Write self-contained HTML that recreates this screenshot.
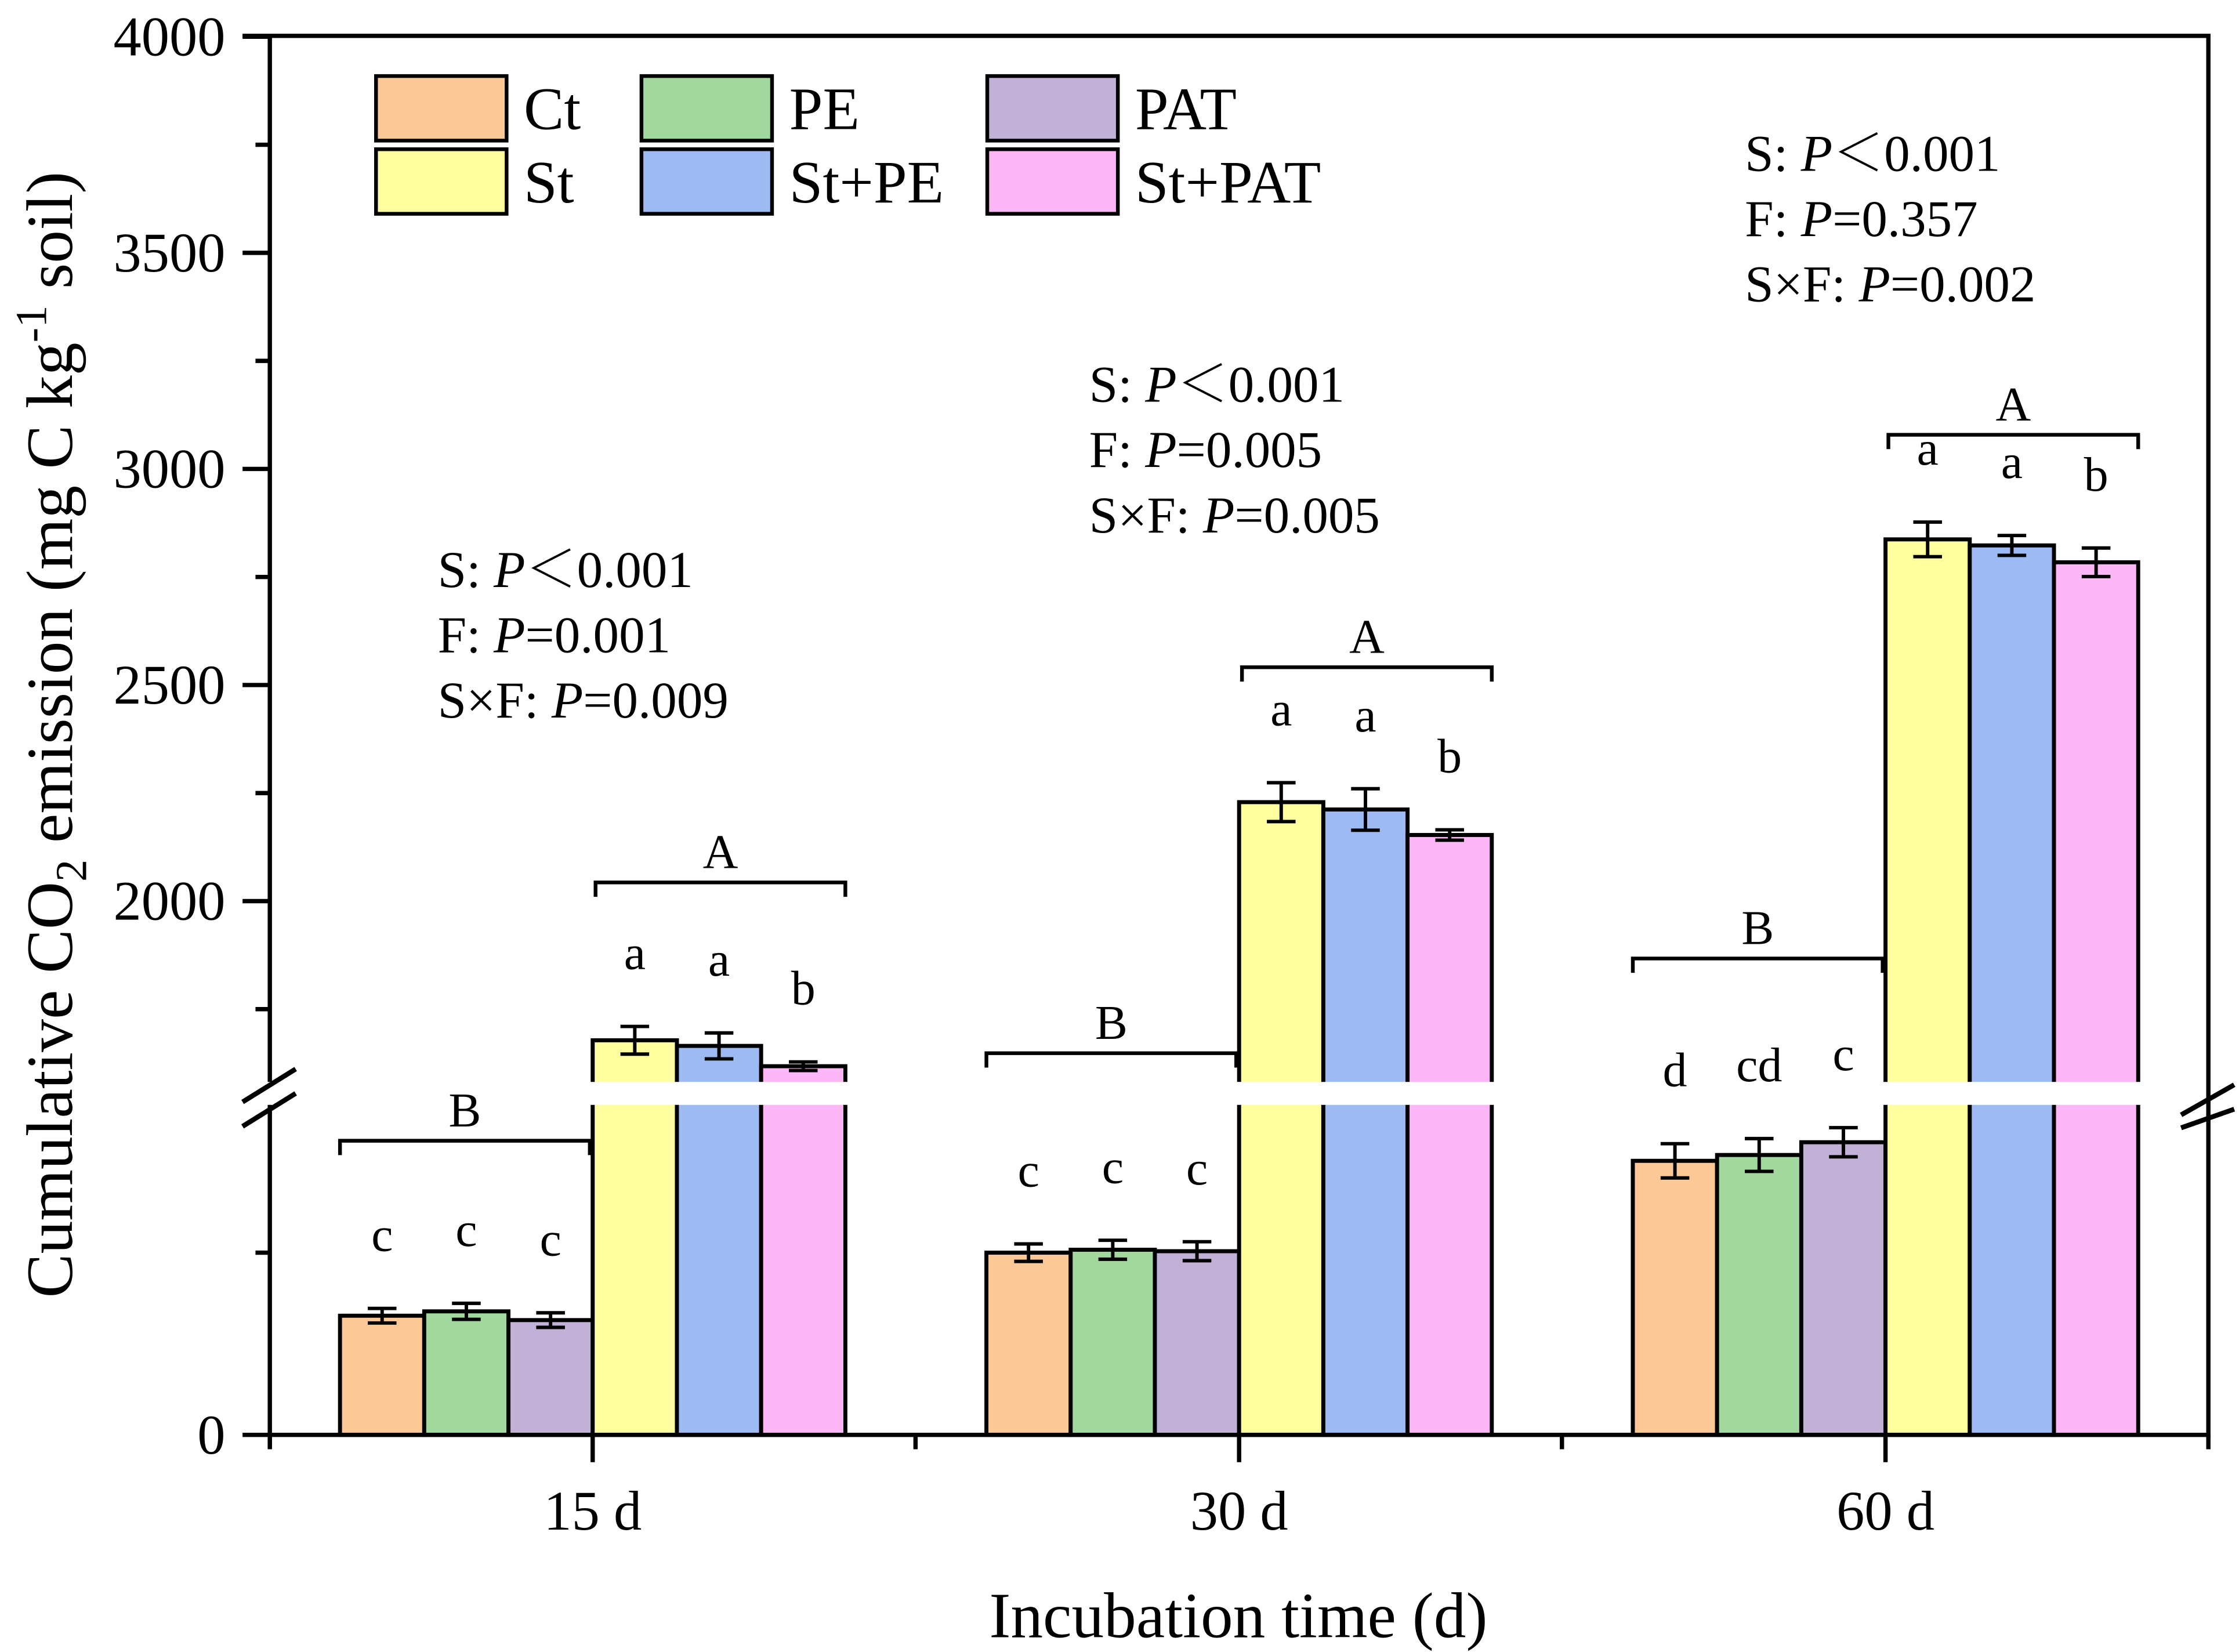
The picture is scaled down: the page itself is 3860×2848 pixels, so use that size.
<!DOCTYPE html>
<html><head><meta charset="utf-8"><style>html,body{margin:0;padding:0;background:#fff}svg{display:block}text{font-family:"Liberation Serif","Noto Serif CJK SC",serif;fill:#000}</style></head>
<body>
<svg id="chart" width="3860" height="2848" viewBox="0 0 1560.3 1151.3" xmlns="http://www.w3.org/2000/svg"></svg>
<script>
const groups = ["15 d", "30 d", "60 d"];
const seriesNames = ["Ct", "PE", "PAT", "St", "St+PE", "St+PAT"];
const seriesColors = ["#FCC896", "#A0D89E", "#C2B1D6", "#FFFFA0", "#9DBBF2", "#FDB6F6"];
const valCt = [327, 500, 752];
const valPE = [339, 508, 768];
const valPAT = [315, 504, 803];
const valSt = [1678, 2229, 2837];
const valStPE = [1665, 2212, 2823];
const valStPAT = [1618, 2153, 2784];
const errCt = [20, 24, 47];
const errPE = [22, 26, 45];
const errPAT = [20, 26, 40];
const errSt = [32, 45, 40];
const errStPE = [30, 48, 23];
const errStPAT = [10, 12, 33];
const letters = [["c","c","c","a","a","b"],["c","c","c","a","a","b"],["d","cd","c","a","a","b"]];
const yTickLabels = [0, 2000, 2500, 3000, 3500, 4000];
const yMinorTicks = [500, 1750, 2250, 2750, 3250, 3750];
const stats = [["S: ", "＜0.001"], ["F: ", "=0.001"], ["S×F: ", "=0.009"]];
const stats30 = [["S: ", "＜0.001"], ["F: ", "=0.005"], ["S×F: ", "=0.005"]];
const stats60 = [["S: ", "＜0.001"], ["F: ", "=0.357"], ["S×F: ", "=0.002"]];

const NS = "http://www.w3.org/2000/svg";
const svg = document.getElementById("chart");
function mk(tag, attrs, parent) { const e = document.createElementNS(NS, tag); for (const k in attrs) e.setAttribute(k, attrs[k]); (parent || svg).appendChild(e); return e; }
const X0 = 188, X1 = 1539, Y0 = 1000, YT = 25;
function yv(v) { return v <= 1000 ? Y0 - v * 0.254 : 628 - (v - 2000) * 0.3012; }
const groupCenter = [413, 863.5, 1314];
const barW = 58.7;
function barX(g, s) { return groupCenter[g] - 3 * barW + s * barW; }
const allVals = [valCt, valPE, valPAT, valSt, valStPE, valStPAT];
const allErr = [errCt, errPE, errPAT, errSt, errStPE, errStPAT];

for (let g = 0; g < groups.length; g++) {
  for (let s = 0; s < 6; s++) {
    const v = allVals[s][g], x = barX(g, s), y = yv(v);
    const r = mk("rect", {x: x, y: y, width: barW, height: Y0 - y, fill: seriesColors[s], stroke: "#000", "stroke-width": 2.8});
    
    
    if (v > 1000) {
      const gap = mk("rect", {x: x - 2, y: 754, width: barW + 4, height: 16, fill: "#fff"});
      
      
    }
    const e = allErr[s][g], cx = x + barW / 2;
    const eb = mk("path", {d: `M${cx} ${yv(v + e)}V${yv(v - e)}M${cx - 10} ${yv(v + e)}H${cx + 10}M${cx - 10} ${yv(v - e)}H${cx + 10}`, stroke: "#000", "stroke-width": 2.4, fill: "none"});
    
    
    const lt = mk("text", {x: cx, y: yv(v + e) - 40, "text-anchor": "middle", "font-size": 34});
    lt.textContent = letters[g][s];
    
    
  }
}
const bracketB = [795, 734, 668], bracketA = [615, 465, 303];
for (let g = 0; g < 3; g++) {
  const l = barX(g, 0), m = groupCenter[g], r = barX(g, 6);
  [[l, m - 2, bracketB[g], "B"], [m + 2, r, bracketA[g], "A"]].forEach(([a, b, y, t]) => {
    const p = mk("path", {d: `M${a} ${y + 10}V${y}H${b}V${y + 10}`, stroke: "#000", "stroke-width": 2.6, fill: "none"});
    
    
    const tx = mk("text", {x: (a + b) / 2, y: y - 10, "text-anchor": "middle", "font-size": 34});
    tx.textContent = t;
    
    
  });
}
const ax = mk("path", {d: `M${X0} ${Y0}H${X1}V754M${X1} 770V${YT}H${X0 - 19}M${X0} ${YT}V754M${X0} 770V${Y0 + 8}`, stroke: "#000", "stroke-width": 3, fill: "none"});


[[X0, 0], [X1, 1]].forEach(([x, i]) => {
  const b = mk("path", {d: `M${x - 19} ${i ? 777 : 768}L${x + 18} ${i ? 756 : 745}M${x - 19} ${i ? 786 : 785}L${x + 18} ${i ? 773 : 762}`, stroke: "#000", "stroke-width": 3.4});
  
  
});
yTickLabels.forEach(v => {
  const y = yv(v);
  const t = mk("path", {d: `M${X0 - 19} ${y}H${X0}`, stroke: "#000", "stroke-width": 3});
  
  
  const tl = mk("text", {x: 157, y: y + 13, "text-anchor": "end", "font-size": 39});
  tl.textContent = v;
  
  
});
yMinorTicks.forEach(v => {
  const t = mk("path", {d: `M${X0 - 10} ${yv(v)}H${X0}`, stroke: "#000", "stroke-width": 3});
  
  
});
groups.forEach((gname, g) => {
  const t = mk("path", {d: `M${groupCenter[g]} ${Y0}V${Y0 + 19}`, stroke: "#000", "stroke-width": 3});
  
  
  const tl = mk("text", {x: groupCenter[g], y: 1066, "text-anchor": "middle", "font-size": 39});
  tl.textContent = gname;
  
  
});
[X0, 638, 1088.5, X1].forEach(x => {
  const t = mk("path", {d: `M${x} ${Y0}V${Y0 + 10}`, stroke: "#000", "stroke-width": 3});
  
  
});
const xt = mk("text", {x: 863, y: 1141, "text-anchor": "middle", "font-size": 45});
xt.textContent = "Incubation time (d)";


const yt = mk("text", {x: 0, y: 0, "text-anchor": "middle", "font-size": 46, transform: "translate(50 512) rotate(-90)"});
yt.innerHTML = 'Cumulative CO<tspan font-size="31" dy="10">2</tspan><tspan dy="-10"> emission (mg C kg</tspan><tspan font-size="31" dy="-18">-1</tspan><tspan dy="18"> soil)</tspan>';


const legX = [262, 447, 688];
seriesNames.forEach((n, i) => {
  const col = i % 3, row = Math.floor(i / 3);
  const r = mk("rect", {x: legX[col], y: 53 + row * 51, width: 91, height: 45, fill: seriesColors[i], stroke: "#000", "stroke-width": 2.6});
  
  
  const t = mk("text", {x: legX[col] + 103, y: 90 + row * 51, "font-size": 42});
  t.textContent = n;
  
  
});
[[stats, 305, 409], [stats30, 759, 280], [stats60, 1216, 119]].forEach(([arr, x, y0]) => {
  arr.forEach((s, i) => {
    const t = mk("text", {x: x, y: y0 + i * 45.5, "font-size": 36});
    t.innerHTML = s[0] + '<tspan font-style="italic">P</tspan>' + s[1];
    
    
  });
});
</script>
</body></html>
